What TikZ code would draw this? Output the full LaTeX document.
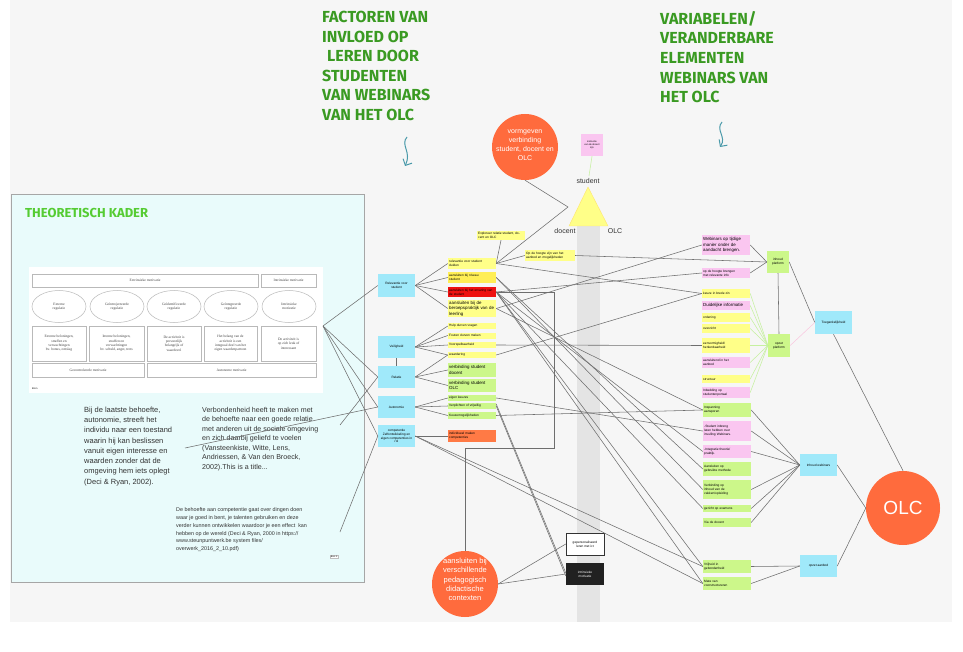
\documentclass[tikz,border=0pt]{standalone}
\usepackage{fontspec}
\setmainfont{Liberation Sans}
\newfontfamily\headfont{Fira Sans}
\newfontfamily\serfont{Liberation Serif}
\usetikzlibrary{shapes.geometric,arrows.meta}
\definecolor{bgc}{HTML}{F6F6F6}
\definecolor{panelc}{HTML}{E9FBFB}
\definecolor{stY}{HTML}{FFFF88}
\definecolor{stYY}{HTML}{FFEE55}
\definecolor{stG}{HTML}{CCF78A}
\definecolor{stP}{HTML}{FAC6F0}
\definecolor{stC}{HTML}{A0E9FA}
\definecolor{stR}{HTML}{EE1111}
\definecolor{stO}{HTML}{FF7A45}
\definecolor{circO}{HTML}{FF6B3D}
\definecolor{hgreen}{HTML}{3A9A22}
\definecolor{kgreen}{HTML}{55CC33}
\definecolor{tealc}{HTML}{4A9AAA}
\definecolor{lgreen}{HTML}{C6F0A0}
\definecolor{lpink}{HTML}{F9C8E0}
\definecolor{bandc}{HTML}{E4E4E4}
\definecolor{lnc}{HTML}{6E6E6E}
\definecolor{txtc}{HTML}{333333}
\newcommand\fsS{\fontsize{3.2}{3.9}\selectfont}
\newcommand\fsM{\fontsize{4.4}{5.4}\selectfont}
\newcommand\stick[8]{\pgfmathsetmacro\stw{#4-2.4}\node[stk,fill=#6,text width=\stw pt,minimum height=#5,font=#7] (#1) at (#2,#3) {#8};}
\begin{document}
\begin{tikzpicture}[x=1pt,y=-1pt,
  stk/.style={inner xsep=1.2,inner ysep=0.3,align=left,draw=none},
  cy/.style={fill=stC,inner sep=0.5,align=center,font=\fsS,minimum width=37,minimum height=23},
  gsq/.style={fill=stG,inner sep=0.5,align=center,font=\fsS,minimum width=22,minimum height=22},
  ln/.style={draw=lnc,line width=0.55},
  lnG/.style={draw=lgreen,line width=0.55},
  lnP/.style={draw=lpink,line width=0.55},
  head/.style={font=\headfont\bfseries\fontsize{16}{19.6}\selectfont,text=hgreen,align=left,inner sep=0,anchor=north west},
  cell/.style={draw=gray!55,line width=0.5,fill=white,inner sep=0.5,font=\serfont\fontsize{3.6}{4.4}\selectfont,text=black!75,align=center},
  bigc/.style={circle,fill=circO,text=white,align=center,inner sep=0},
  wavy/.style={draw=tealc,line width=1,-{Straight Barb[length=5pt,width=10pt]}}
]
\useasboundingbox (0,0) rectangle (963,652);
\fill[white] (0,0) rectangle (963,652);
\fill[bgc] (10,0) rectangle (952,622);

% headings
\node[head] (h1) at (322,11) {FACTOREN VAN\\INVLOED OP\\\hspace{5pt}LEREN DOOR\\STUDENTEN\\VAN WEBINARS\\VAN HET OLC};
\node[head] (h2) at (660,11) {VARIABELEN/\\VERANDERBARE\\ELEMENTEN\\WEBINARS VAN\\HET OLC};
\draw[wavy] (407,137) .. controls (400,145) and (412,152) .. (405,166);
\draw[wavy] (722,122) .. controls (715,130) and (727,137) .. (720,147);

% left panel
\node[draw=gray!70,fill=panelc,minimum width=353,minimum height=388,anchor=north west,inner sep=0] (panel) at (11,194) {};
\node[font=\headfont\bfseries\fontsize{13}{16}\selectfont,text=kgreen,anchor=west,inner sep=0] (tk) at (25,213) {THEORETISCH KADER};
\node[fill=white,minimum width=294,minimum height=126,anchor=north west,inner sep=0] (img) at (29,267) {};
\node[cell,minimum width=226,minimum height=13] (t1) at (145,280.5) {Extrinsieke motivatie};
\node[cell,minimum width=55,minimum height=13] (t2) at (288.5,280.5) {Intrinsieke motivatie};
\node[cell,ellipse,minimum width=54,minimum height=32] (e1) at (59,306.5) {Externe\\regulatie};
\node[cell,ellipse,minimum width=54,minimum height=32] (e2) at (117,306.5) {Ge\"introjecteerde\\regulatie};
\node[cell,ellipse,minimum width=54,minimum height=32] (e3) at (174,306.5) {Ge\"identificeerde\\regulatie};
\node[cell,ellipse,minimum width=54,minimum height=32] (e4) at (231,306.5) {Ge\"integreerde\\regulatie};
\node[cell,ellipse,minimum width=54,minimum height=32] (e5) at (289,306.5) {Intrinsieke\\motivatie};
\node[cell,minimum width=54,minimum height=35] (r1) at (59,343.5) {Externe beloningen,\\straffen en\\verwachtingen\\bv. bonus, ontslag};
\node[cell,minimum width=55,minimum height=35] (r2) at (116.5,343.5) {Interne beloningen,\\straffen en\\verwachtingen\\bv. schuld, angst, trots};
\node[cell,minimum width=54,minimum height=35] (r3) at (174,343.5) {De activiteit is\\persoonlijk\\belangrijk of\\waardevol};
\node[cell,minimum width=53,minimum height=35] (r4) at (230.5,343.5) {Het belang van de\\activiteit is een\\integraal deel van het\\eigen waardenpatroon};
\node[cell,minimum width=55,minimum height=35] (r5) at (288.5,343.5) {De activiteit is\\op zich leuk of\\interessant};
\node[cell,minimum width=112,minimum height=14] (g1) at (88,370) {Gecontroleerde motivatie};
\node[cell,minimum width=169,minimum height=14] (g2) at (231.5,370) {Autonome motivatie};
\node[font=\fontsize{2.5}{3}\selectfont,inner sep=0,anchor=west] (bron) at (32,389) {Bron};

\node[anchor=north west,font=\fontsize{7.5}{10.3}\selectfont,text=txtc,align=left,inner sep=0] (tb1) at (84,406.5) {Bij de laatste behoefte,\\autonomie, streeft het\\individu naar een toestand\\waarin hij kan beslissen\\vanuit eigen interesse en\\waarden zonder dat de\\omgeving hem iets oplegt\\(Deci \& Ryan, 2002).};
\node[anchor=north west,font=\fontsize{7.1}{9.5}\selectfont,text=txtc,align=left,inner sep=0] (tb2) at (202,407) {Verbondenheid heeft te maken met\\de behoefte naar een goede relatie\\met anderen uit de sociale omgeving\\en zich daarbij geliefd te voelen\\(Vansteenkiste, Witte, Lens,\\Andriessen, \& Van den Broeck,\\2002).This is a title...};
\node[anchor=north west,font=\fontsize{5.4}{7.8}\selectfont,text=txtc,align=left,inner sep=0] (tb3) at (176,507.5) {De behoefte aan competentie gaat over dingen doen\\waar je goed in bent, je talenten gebruiken en deze\\verder kunnen ontwikkelen waardoor je een effect\ \ kan\\hebben op de wereld (Deci \& Ryan, 2000 in https://\\www.steunpuntwerk.be system files/\\overwerk\_2016\_2\_10.pdf)};
\node[draw=gray!50,fill=white,font=\fontsize{2.2}{2.6}\selectfont,inner sep=0.6] (bron3) at (334,556.5) {Bron 3};

% band and triangle
\fill[bandc] (577,226) rectangle (600,622);
\coordinate (triT) at (588,187);
\coordinate (triL) at (569,226);
\coordinate (triR) at (608,226);
\fill[stY,draw=stY!80!orange] (triT) -- (triL) -- (triR) -- cycle;
\node[font=\fontsize{7}{8}\selectfont,text=txtc] (lstud) at (588,181) {student};
\node[font=\fontsize{7}{8}\selectfont,text=txtc] (ldoc) at (565,231) {docent};
\node[font=\fontsize{7}{8}\selectfont,text=txtc] (lolc) at (615,231) {OLC};
\coordinate (triTop) at (589,176);

% circles
\node[bigc,minimum size=66] (topc) at (525,147) {};
\node[font=\fontsize{7}{9}\selectfont,text=white,align=center] (topt) at (525,145.5) {vormgeven\\verbinding\\student, docent en\\OLC};
\node[bigc,minimum size=66] (botc) at (465,584) {};
\node[font=\fontsize{7.5}{9.3}\selectfont,text=white,align=center] (bott) at (465,579.5) {aansluiten bij\\verschillende\\pedagogisch\\didactische\\contexten};
\node[bigc,minimum size=74,font=\fontsize{19}{21}\selectfont] (olc) at (903,508) {OLC};

% cyan column
\node[cy] (cRel) at (396.5,285.5) {Relevantie voor\\student};
\node[cy,minimum height=22] (cVei) at (396.5,347) {Veiligheid};
\node[cy,minimum height=22] (cRela) at (396.5,377) {Relatie};
\node[cy,minimum height=22] (cAut) at (396.5,407) {Autonomie};
\node[cy,minimum height=22] (cComp) at (396.5,436) {competentie\\Zelfontwikkeling en\\eigen competenties in\\rol};

% middle column
\stick{expl}{501}{235.5}{48}{9}{stY}{\fsS}{Exploreer relatie student, docent en OLC}
\stick{opz}{550}{255.5}{50}{11}{stY}{\fsS}{Op de hoogte zijn van het\\aanbod en mogelijkheden}
\stick{mRel}{472}{263.5}{48}{11}{stY}{\fsS}{relevantie voor student\\duiden}
\stick{mNiv}{472}{277.5}{48}{11}{stYY}{\fsS}{aansluiten bij niveau\\student}
\stick{mErv}{472}{292}{48}{10}{stR}{\fsS}{aansluiten bij het ervaring van\\de student}
\stick{mBer}{472}{308.5}{48}{17}{stY}{\fsM}{aansluiten bij de\\beroepspraktijk van de\\leerling}
\stick{mHulp}{472}{326}{48}{6.5}{stY}{\fsS}{Hulp durven vragen}
\stick{mFout}{472}{335.5}{48}{6}{stY}{\fsS}{Fouten durven maken}
\stick{mVoor}{472}{345}{48}{6}{stY}{\fsS}{Voorspelbaarheid}
\stick{mWaard}{472}{355}{48}{6}{stY}{\fsS}{waardering}
\stick{mVsd}{472}{370}{48}{14}{stG}{\fsM}{verbinding student\\docent}
\stick{mVso}{472}{385.5}{48}{13.5}{stG}{\fsM}{verbinding student\\OLC}
\stick{mEig}{472}{398}{48}{6}{stG}{\fsS}{eigen keuzes}
\stick{mVer}{472}{406}{48}{6}{stG}{\fsS}{Verplichten of vrijwillig}
\stick{mKeu}{472}{415.5}{48}{7}{stG}{\fsS}{Keuzemogelijkheden}
\stick{mInd}{472}{436}{48}{12}{stO}{\fsS}{individueel maken\\competenties}

\node[fill=stP,minimum width=22,minimum height=22,inner sep=0.5,align=center,font=\fontsize{2.4}{3}\selectfont] (pk) at (592,145) {instructie\\van de docent\\zijn};
\node[draw=black!80,fill=white,line width=0.5,minimum width=38,minimum height=22,inner sep=0.5,align=center,font=\fsS] (wht) at (585,544) {gepersonaliseerd\\leren met ict};
\node[fill=black!87,text=white,minimum width=38,minimum height=22,inner sep=0.5,align=center,font=\fsS] (blk) at (585,574) {intrinsieke\\motivatie};

% right column
\stick{rWeb}{726}{245}{48}{20}{stP}{\fsM}{Webinars op tijdige\\manier onder de\\aandacht brengen.}
\stick{rHoog}{726}{273}{48}{10}{stP}{\fsS}{op de hoogte brengen\\met relevante info}
\stick{rKeu}{726}{293.5}{48}{9}{stY}{\fsS}{keuze in brede zin}
\stick{rDuid}{726}{305.5}{48}{9}{stP}{\fsM}{Duidelijke informatie}
\stick{rOrd}{726}{317.5}{48}{9}{stY}{\fsS}{ordening}
\stick{rOver}{726}{328.5}{48}{9}{stY}{\fsS}{overzicht}
\stick{rEenv}{726}{345.5}{48}{15}{stY}{\fsS}{eenvormigheid/\\herkenbaarheid}
\stick{rAans}{726}{362.5}{48}{11}{stP}{\fsS}{aansluitend in het\\aanbod}
\stick{rStruc}{726}{379}{48}{8}{stY}{\fsS}{structuur}
\stick{rInb}{726}{392.5}{48}{11}{stP}{\fsS}{Inbedding op\\studentenportaal}
\stick{rInsp}{727}{410}{48}{14}{stG}{\fsS}{Inspanning\\aansporen}
\stick{rStud}{727}{431}{48}{20}{stP}{\fsS}{-Student inbreng\\laten hebben over\\invulling Webinars.}
\stick{rInt}{727}{451.5}{48}{13}{stP}{\fsS}{-Integratie theorie/\\praktijk.}
\stick{rMeth}{727}{469}{48}{14}{stG}{\fsS}{Aansluiten op\\gebruikte methode}
\stick{rInh}{727}{489.5}{48}{19}{stG}{\fsS}{Verbinding op\\inhoud van de\\vakken/opleiding}
\stick{rExa}{727}{508.5}{48}{7}{stG}{\fsS}{gericht op examens}
\stick{rDoc}{727}{522.5}{48}{9}{stG}{\fsS}{Via de docent}
\stick{rVrij}{727}{566.5}{48}{13}{stG}{\fsS}{Vrijheid in\\gebondenheid}
\stick{rMate}{727}{583.5}{48}{13}{stG}{\fsS}{Mate van\\voorstructureren}

\node[gsq] (gTop) at (778,262) {inhoud\\platform};
\node[gsq,minimum height=23] (gOpz) at (779,345.5) {opzet\\platform};
\node[cy] (cToe) at (833.5,322.5) {Toegankelijkheid};
\node[cy,minimum height=22] (cInh) at (818.5,465) {Inhoud webinars};
\node[cy,minimum height=22] (cOpz) at (818.5,566) {opzet aanbod};

% connectors left panel
\coordinate (tpt) at (323,326);
\coordinate (tx1) at (185,448);
\coordinate (tx2) at (340,425);
\coordinate (tx3) at (340,532);
\draw[ln] (tpt) -- (cRel.west);
\draw[ln] (tpt) -- (cRela.west);
\draw[ln] (tpt) -- (cAut.west);
\draw[ln] (tpt) -- (cComp.west);
\draw[ln] (tx1) -- (cAut.west);
\draw[ln] (tx2) -- (cRela.west);
\draw[ln] (tx3) -- (cComp.west);

% cyan -> middle
\foreach \n in {mRel,mNiv,mErv,mBer} \draw[ln] (cRel.east) -- (\n.west);
\foreach \n in {mHulp,mFout,mVoor,mWaard} \draw[ln] (cVei.east) -- (\n.west);
\foreach \n in {mWaard,mVsd,mVso} \draw[ln] (cRela.east) -- (\n.west);
\foreach \n in {mEig,mVer,mKeu} \draw[ln] (cAut.east) -- (\n.west);
\draw[ln] (cComp.east) -- (mInd.west);
\draw[ln] (cVei.south) -- (cRela.north);

% top structures
\coordinate (kink) at (568,207);
\draw[ln] (topc.south) -- (kink) -- (mRel.east);
\draw[ln] (mRel.east) -- (expl.south);
\draw[lnG] (pk.south) -- (triTop);
\coordinate (brA) at (554,292);
\coordinate (brB) at (554,448);
\coordinate (brC) at (465,448);
\draw[ln] (mErv.east) -- (brA) -- (brB) -- (brC) -- (botc.north);

% middle -> right
\draw[ln] (mRel.east) -- (opz.west);
\draw[ln] (mRel.east) -- (rKeu.west);
\draw[ln] (opz.east) -- (gTop.west);
\draw[ln] (mBer.east) -- (rWeb.west);
\draw[ln] (mErv.east) -- (rHoog.west);
\draw[ln] (mWaard.east) -- (rKeu.west);
\draw[ln] (mVoor.east) -- (rEenv.west);
\draw[ln] (mBer.east) -- (rInsp.west);
\draw[ln] (mKeu.east) -- (rInsp.west);
\draw[ln] (mEig.east) -- (rStud.west);
\draw[ln] (mErv.east) -- (rInt.west);
\draw[ln] (mNiv.east) -- (rMeth.west);
\draw[ln] (mNiv.east) -- (rInh.west);
\draw[ln] (mErv.east) -- (rExa.west);
\draw[ln] (mErv.east) -- (rVrij.west);
\draw[ln] (mErv.east) -- (rMate.west);
\draw[ln] (cComp.east) -- (rVrij.west);
\draw[ln] (cComp.east) -- (rMate.west);
\draw[ln] (mVer.east) -- ([yshift=-2]blk.west);
\draw[ln] ([yshift=2]mVer.east) -- ([yshift=1]blk.west);
\draw[ln] (botc.east) -- (wht.west);
\draw[ln] (botc.east) -- (blk.west);

% right column -> right nodes
\draw[ln] (rWeb.east) -- (gTop.west);
\draw[ln] (rHoog.east) -- (gTop.west);
\foreach \n in {rKeu,rDuid,rOrd,rOver,rEenv,rAans,rStruc,rInb} \draw[lnG] (\n.east) -- (gOpz.west);
\draw[ln] (gTop.south) -- (gOpz.north);
\draw[ln] (gTop.east) -- (cToe.west);
\draw[lnP] (gOpz.east) -- (cToe.west);
\foreach \n in {rInsp,rStud,rInt,rInh,rExa,rDoc} \draw[ln] (\n.east) -- (cInh.west);
\foreach \n in {rVrij,rMate} \draw[ln] (\n.east) -- (cOpz.west);
\draw[ln] (cToe.south) -- (olc.north);
\draw[ln] (cInh.east) -- (olc.west);
\draw[ln] (cOpz.east) -- (olc.west);
\end{tikzpicture}
\end{document}
